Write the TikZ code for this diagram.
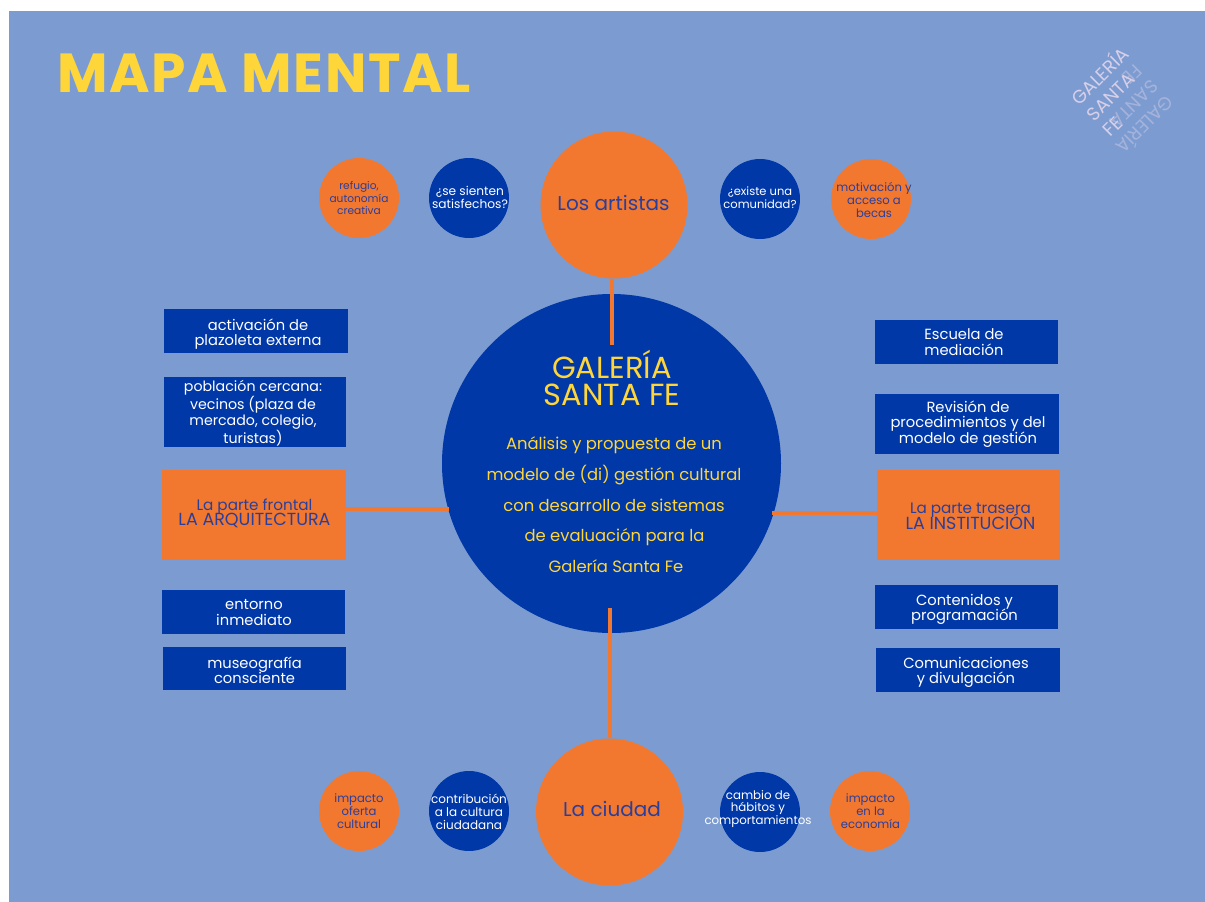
\documentclass[tikz,border=0pt]{standalone}
\usepackage{fontspec}
\setmainfont{Poppins}
\newfontfamily\titlefont[LetterSpace=3]{Poppins Bold}
\definecolor{bgblue}{HTML}{7C9CD1}
\definecolor{deep}{HTML}{0038A8}
\definecolor{org}{HTML}{F2782F}
\definecolor{yel}{HTML}{FFD63A}
\definecolor{ink}{HTML}{2A3F9C}
\definecolor{lav}{HTML}{D8CFE8}
\newcommand{\fs}[1]{\fontsize{#1}{#1}\selectfont}
\newcommand{\capsz}{\fontsize{17.5}{15.5}\selectfont}
\tikzset{
  x=1pt,y=-1pt,
  circ/.style={circle,inner sep=0pt,minimum size=#1,draw=none},
  olab/.style={align=center,text=ink,font=\fontsize{11.6}{12.8}\selectfont,inner sep=0pt},
  wlab/.style={align=center,text=white,font=\fontsize{11.8}{12.8}\selectfont,inner sep=0pt},
  box/.style={rectangle,inner sep=0pt,fill=deep},
  obox/.style={rectangle,inner sep=0pt,fill=org},
  btext/.style={inner sep=0pt,text=white,align=center,font=\fontsize{14.7}{15.6}\selectfont},
  otext/.style={inner sep=0pt,text=ink,align=center,font=\fontsize{15.2}{15.4}\selectfont},
  conn/.style={draw=org,line width=4pt},
  mid/.style={text=yel,inner sep=0pt,anchor=base,font=\fontsize{16.4}{16.4}\selectfont},
  logo/.style={text=lav,align=left,inner sep=0pt,font=\fontsize{18.5}{22}\selectfont}
}
\begin{document}
\begin{tikzpicture}
\useasboundingbox (0,0) rectangle (1205,902);
\fill[white] (0,0) rectangle (1205,902);
\fill[bgblue] (9,11) rectangle (1205,902);
\node[text=yel,anchor=center,inner sep=0pt,font=\fontsize{55}{55}\selectfont\titlefont] (title) at (264,73) {MAPA MENTAL};
% logo
\node[logo,rotate=45] (logoa) at (1114.5,90.5) {GALERÍA\\SANTA\\FE};
\node[logo,rotate=225,opacity=.45] (logob) at (1130.5,110.5) {GALERÍA\\SANTA\\FE};
% main circles
\node[circ=339pt,fill=deep] (centro) at (611.5,463.5) {};
\node[circ=147pt,fill=org] (artistas) at (614,205) {};
\node[circ=147pt,fill=org] (ciudad) at (609.5,812) {};
\node[text=ink,font=\fs{20},inner sep=0pt] (artistast) at (613.5,203) {Los artistas};
\node[text=ink,font=\fs{20},inner sep=0pt] (ciudadt) at (612,809) {La ciudad};
\node[text=yel,align=center,inner sep=0pt,font=\fontsize{30.5}{27.5}\selectfont] (gsf) at (612,378) {GALERÍA\\SANTA FE};
\node[mid] (m1) at (614,449) {Análisis y propuesta de un};
\node[mid] (m2) at (614,480) {modelo de (di) gestión cultural};
\node[mid] (m3) at (614,511) {con desarrollo de sistemas};
\node[mid] (m4) at (614.5,541) {de evaluación para la};
\node[mid] (m5) at (616,572) {Galería Santa Fe};
% small circles top
\node[circ=80pt,fill=org] (refugio) at (359,198) {};
\node[olab,font=\fontsize{10.6}{12.4}\selectfont] (refugiot) at (359,198) {refugio,\\autonomía\\creativa};
\node[circ=80pt,fill=deep] (satis) at (469,198) {};
\node[wlab,font=\fontsize{12.2}{13}\selectfont] (satist) at (470,197) {¿se sienten\\satisfechos?};
\node[circ=80pt,fill=deep] (comun) at (760,199) {};
\node[wlab,font=\fontsize{11.5}{13}\selectfont] (comunt) at (760,198) {¿existe una\\comunidad?};
\node[circ=80pt,fill=org] (motiv) at (871,199) {};
\node[olab] (motivt) at (874,200) {motivación y\\acceso a\\becas};
% small circles bottom
\node[circ=80pt,fill=org] (oferta) at (359,811) {};
\node[olab] (ofertat) at (359,811) {impacto\\oferta\\cultural};
\node[circ=80pt,fill=deep] (contri) at (469,811) {};
\node[wlab,font=\fontsize{12}{13}\selectfont] (contrit) at (469,812) {contribución\\a la cultura\\ciudadana};
\node[circ=80pt,fill=deep] (cambio) at (760,812) {};
\node[wlab] (cambiot) at (758,809) {cambio de\\hábitos y\\comportamientos};
\node[circ=80pt,fill=org] (econ) at (870,811) {};
\node[olab] (econt) at (870.5,811) {impacto\\en la\\economía};
% left boxes
\node[box,minimum width=184pt,minimum height=44pt] (activ) at (256,331) {};
\node[btext] (activt) at (258,334) {activación de\\plazoleta externa};
\node[box,minimum width=182pt,minimum height=70pt] (pobl) at (255,412) {};
\node[btext,font=\fontsize{14.2}{15.7}\selectfont] (poblt) at (253,413) {población cercana:\\vecinos (plaza de\\mercado, colegio,\\turistas)};
\node[obox,minimum width=184pt,minimum height=90pt] (frontal) at (254,515) {};
\node[otext] (frontalt) at (254.5,512) {La parte frontal\\\smash{\capsz LA ARQUITECTURA}};
\node[box,minimum width=183pt,minimum height=44pt] (entorno) at (253.5,612) {};
\node[btext] (entornot) at (254,612.5) {entorno\\inmediato};
\node[box,minimum width=183pt,minimum height=43pt] (museo) at (254.5,668.5) {};
\node[btext] (museot) at (254.5,670.5) {museografía\\consciente};
% right boxes
\node[box,minimum width=183pt,minimum height=44pt] (escuela) at (966.5,342) {};
\node[btext] (escuelat) at (964,342) {Escuela de\\mediación};
\node[box,minimum width=184pt,minimum height=60pt] (revision) at (967,424) {};
\node[btext] (revisiont) at (968,424) {Revisión de\\procedimientos y del\\modelo de gestión};
\node[obox,minimum width=183pt,minimum height=90pt] (trasera) at (968.5,515) {};
\node[otext] (traserat) at (970.5,516) {La parte trasera\\\smash{\capsz LA INSTITUCIÓN}};
\node[box,minimum width=183pt,minimum height=44pt] (conten) at (966.5,607) {};
\node[btext] (content) at (964.5,609.5) {Contenidos y\\programación};
\node[box,minimum width=184pt,minimum height=44pt] (comunic) at (968,670) {};
\node[btext] (comunict) at (966,672.5) {Comunicaciones\\y divulgación};
% connectors
\coordinate (jt) at (612,345);
\coordinate (jb) at (610,608);
\coordinate (jl) at (449,509);
\coordinate (jr) at (772,513);
\draw[conn] (jt |- artistas.south) -- (jt);
\draw[conn] (jb) -- (jb |- ciudad.north);
\draw[conn] (jl -| frontal.east) -- (jl);
\draw[conn] (jr) -- (jr -| trasera.west);
\end{tikzpicture}
\end{document}
